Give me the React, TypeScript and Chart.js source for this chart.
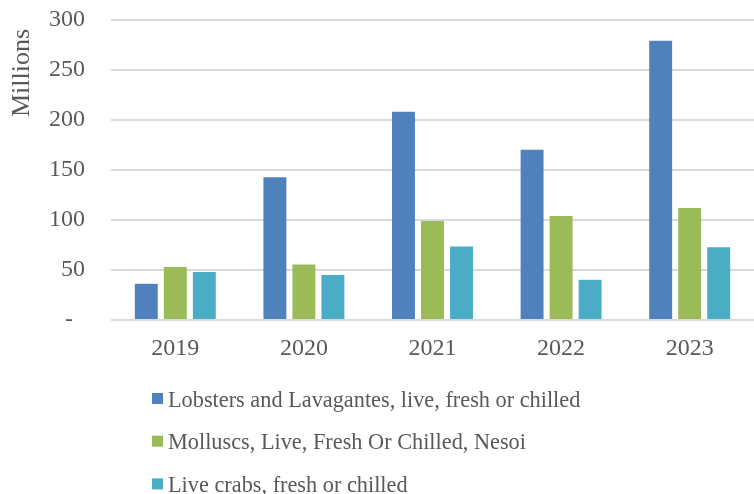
import React, { useEffect, useRef } from "react";
import { Chart, registerables } from "chart.js";

Chart.register(...registerables);

const categories = ["2019", "2020", "2021", "2022", "2023"];
const lobsters = [36.2, 142.8, 208.2, 170.3, 279.2];
const molluscs = [52.9, 55.6, 98.9, 103.9, 111.9];
const crabs = [47.9, 44.9, 73.4, 40.2, 72.7];
const seriesNames = [
  "Lobsters and Lavagantes, live, fresh or chilled",
  "Molluscs, Live, Fresh Or Chilled, Nesoi",
  "Live crabs, fresh or chilled",
];
const seriesColors = ["#4f81bd", "#9bbb59", "#4bacc6"];
const yTicks = [0, 50, 100, 150, 200, 250, 300];
const yTitle = "Millions";

const FONT = "'Liberation Serif', 'Times New Roman', serif";
const TEXT = "#595959";

const decorPlugin = {
  id: "decor",
  afterDraw(chart: any) {
    const ctx = chart.ctx;
    const area = chart.chartArea;
    ctx.save();
    // y axis title
    ctx.save();
    ctx.translate(21.7, area.top + 53);
    ctx.rotate(-Math.PI / 2);
    ctx.font = `26px ${FONT}`;
    ctx.fillStyle = TEXT;
    ctx.textAlign = "center";
    ctx.textBaseline = "middle";
    ctx.fillText(yTitle, 0, 0);
    ctx.restore();
    // legend
    ctx.font = `22.3px ${FONT}`;
    ctx.textBaseline = "alphabetic";
    ctx.textAlign = "left";
    chart.data.datasets.forEach((ds: any, i: number) => {
      const top = area.bottom + 73 + i * 42.7;
      ctx.fillStyle = ds.backgroundColor;
      ctx.fillRect(area.left + 41, top, 11, 11);
      ctx.fillStyle = TEXT;
      ctx.fillText(ds.label, area.left + 57, top + 13.7);
    });
    ctx.restore();
  },
};

export default function App() {
  const ref = useRef<HTMLCanvasElement>(null);
  useEffect(() => {
    document.body.style.margin = "0";
    const chart = new Chart(ref.current!, {
      type: "bar",
      data: {
        labels: categories,
        datasets: [lobsters, molluscs, crabs].map((d, i) => ({
          label: seriesNames[i],
          data: d,
          backgroundColor: seriesColors[i],
          borderWidth: 0,
          categoryPercentage: 0.677,
          barPercentage: 0.79,
        })),
      },
      options: {
        responsive: false,
        animation: false,
        layout: { padding: { top: 20, right: 0, left: 0, bottom: 117.2 } },
        plugins: { legend: { display: false }, tooltip: { enabled: false } },
        scales: {
          x: {
            grid: { display: false, drawTicks: false },
            border: { display: false },
            ticks: { color: TEXT, font: { family: FONT, size: 24 }, padding: 14 },
            afterFit: (s: any) => {
              s.paddingLeft = 0;
              s.paddingRight = 0;
            },
          },
          y: {
            min: 0,
            max: 300,
            afterBuildTicks: (s: any) => {
              s.ticks = yTicks.map((v) => ({ value: v }));
            },
            afterFit: (s: any) => {
              s.width = 111;
              s.paddingTop = 0;
              s.paddingBottom = 0;
            },
            grid: { color: "#d9d9d9", lineWidth: 2, drawTicks: false },
            border: { display: false },
            ticks: {
              color: TEXT,
              font: { family: FONT, size: 24 },
              padding: 26,
              callback: (v: any) => (Number(v) === 0 ? "-  " : String(v)),
            },
          },
        },
      },
      plugins: [decorPlugin],
    });
    return () => chart.destroy();
  }, []);
  return (
    <div style={{ width: 754, height: 494 }}>
      <canvas ref={ref} width={754} height={494} />
    </div>
  );
}
